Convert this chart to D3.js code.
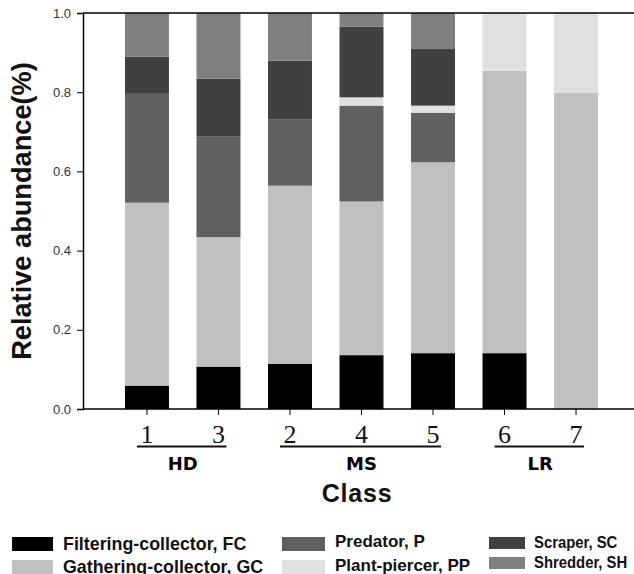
<!DOCTYPE html>
<html>
<head>
<meta charset="utf-8">
<script src="https://cdn.jsdelivr.net/npm/d3@7"></script>
<style>
  body { margin: 0; background: #fff; }
  svg { display: block; font-family: "Liberation Sans", Arial, sans-serif; }
</style>
</head>
<body>
<div id="chart"></div>
<script>
// classes in plotted order, and the group each belongs to
const classes = ['1', '3', '2', '4', '5', '6', '7'];
const groups = [
  { name: 'HD', members: ['1', '3'] },
  { name: 'MS', members: ['2', '4', '5'] },
  { name: 'LR', members: ['6', '7'] }
];

const guildKeys = ['FC', 'GC', 'P', 'PP', 'SC', 'SH'];
const guildNames = ['Filtering-collector, FC', 'Gathering-collector, GC', 'Predator, P',
  'Plant-piercer, PP', 'Scraper, SC', 'Shredder, SH'];

// relative abundance per class (same order as classes)
const FC = [0.059, 0.107, 0.114, 0.136, 0.141, 0.141, 0];
const GC = [0.462, 0.327, 0.450, 0.388, 0.482, 0.713, 0.798];
const P  = [0.277, 0.255, 0.168, 0.242, 0.125, 0, 0];
const PP = [0, 0, 0, 0.021, 0.018, 0.146, 0.202];
const SC = [0.092, 0.145, 0.148, 0.178, 0.143, 0, 0];
const SH = [0.110, 0.166, 0.120, 0.035, 0.091, 0, 0];

const yTicks = [0, 0.2, 0.4, 0.6, 0.8, 1.0];

const W = 634, H = 574;
const margin = { top: 13, left: 83, bottom: 409 };

const color = d3.scaleOrdinal()
  .domain(guildKeys)
  .range(['#000000', '#c0c0c0', '#606060', '#e0e0e0', '#404040', '#808080']);

const table = classes.map((c, i) => ({
  cls: c, FC: FC[i], GC: GC[i], P: P[i], PP: PP[i], SC: SC[i], SH: SH[i]
}));

const stacked = d3.stack().keys(guildKeys)(table);

const x = d3.scaleBand().domain(classes).range([margin.left, 640])
  .paddingInner(0.385).paddingOuter(0.587);
const y = d3.scaleLinear().domain([0, 1]).range([margin.bottom, margin.top]);

const svg = d3.select('#chart').append('svg')
  .attr('width', W).attr('height', H);

// bars
svg.append('g').selectAll('g').data(stacked).enter().append('g')
  .attr('fill', d => color(d.key))
  .selectAll('rect').data(d => d).enter().append('rect')
  .attr('x', d => x(d.data.cls))
  .attr('width', x.bandwidth())
  .attr('y', d => y(d[1]))
  .attr('height', d => y(d[0]) - y(d[1]));

// frame: top line
svg.append('line')
  .attr('x1', margin.left).attr('x2', W)
  .attr('y1', y(1)).attr('y2', y(1))
  .attr('stroke', '#000').attr('stroke-width', 1.5);

// y axis
const yAxis = svg.append('g')
  .attr('transform', `translate(${margin.left},0)`)
  .call(d3.axisLeft(y).tickValues(yTicks).tickFormat(d3.format('.1f')).tickSize(6).tickPadding(6));
yAxis.select('.domain').attr('stroke-width', 1.5);
yAxis.selectAll('text').attr('font-size', 13).attr('fill', '#333')
  .attr('font-family', '"Liberation Sans", Arial, sans-serif');

// x axis
const xAxis = svg.append('g')
  .attr('transform', `translate(0,${margin.bottom})`)
  .call(d3.axisBottom(x).tickSize(6).tickSizeOuter(0));
xAxis.select('.domain').attr('d', `M${margin.left},0H${W}`).attr('stroke-width', 1.5);
xAxis.selectAll('text').remove();

// class numbers (serif)
svg.append('g').selectAll('text').data(classes).enter().append('text')
  .attr('x', d => x(d) + x.bandwidth() / 2)
  .attr('y', 443)
  .attr('text-anchor', 'middle')
  .attr('font-family', '"Liberation Serif", "Times New Roman", serif')
  .attr('font-size', 26)
  .attr('fill', '#111')
  .text(d => d);

// group underline + group name
const center = c => x(c) + x.bandwidth() / 2;
const g = svg.append('g');
groups.forEach(grp => {
  const first = grp.members[0], last = grp.members[grp.members.length - 1];
  g.append('line')
    .attr('x1', center(first) - 10).attr('x2', center(last) + 8)
    .attr('y1', 446.5).attr('y2', 446.5)
    .attr('stroke', '#111').attr('stroke-width', 2);
  g.append('text')
    .attr('x', (center(first) + center(last)) / 2)
    .attr('y', 470)
    .attr('text-anchor', 'middle')
    .attr('font-family', '"DejaVu Sans", sans-serif')
    .attr('font-weight', 'bold')
    .attr('font-size', 18)
    .text(grp.name);
});

// axis titles
svg.append('text')
  .attr('x', 357).attr('y', 502)
  .attr('text-anchor', 'middle')
  .attr('font-size', 25).attr('font-weight', 'bold')
  .attr('letter-spacing', 0.8)
  .attr('fill', '#111')
  .text('Class');

svg.append('text')
  .attr('transform', `translate(31,${(y(0) + y(1)) / 2}) rotate(-90)`)
  .attr('text-anchor', 'middle')
  .attr('font-size', 27.2).attr('font-weight', 'bold')
  .attr('fill', '#111')
  .text('Relative abundance(%)');

// legend, 3 columns x 2 rows (the columns are not quite alike in the original)
const legendCols = [
  { sx: 12, sw: 41, sh: 14, rows: [537, 560], tx: 63, base: [549.5, 572.5], fs: 17.5, k: 1.02 },
  { sx: 282, sw: 43, sh: 14, rows: [537, 560], tx: 335, base: [547, 570.5], fs: 17, k: 1.0 },
  { sx: 489, sw: 36, sh: 12, rows: [537, 557], tx: 534, base: [548, 568], fs: 16.5, k: 0.9 }
];
const col = i => legendCols[Math.floor(i / 2)];

const legend = svg.append('g').selectAll('g').data(guildKeys).enter().append('g');

legend.append('rect')
  .attr('x', (d, i) => col(i).sx)
  .attr('y', (d, i) => col(i).rows[i % 2])
  .attr('width', (d, i) => col(i).sw)
  .attr('height', (d, i) => col(i).sh)
  .attr('fill', d => color(d));

legend.append('text')
  .attr('transform', (d, i) => `translate(${col(i).tx},${col(i).base[i % 2]}) scale(${col(i).k},1)`)
  .attr('font-size', (d, i) => col(i).fs).attr('font-weight', 'bold')
  .attr('fill', '#111')
  .text((d, i) => guildNames[i]);
</script>
</body>
</html>
